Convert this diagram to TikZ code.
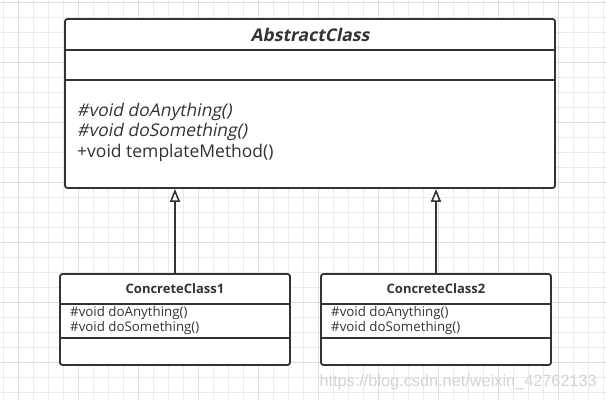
\documentclass[tikz,border=0pt]{standalone}
\usepackage{fontspec}
\setmainfont{Open Sans}
\newfontfamily\slantfont{Open Sans}[FakeSlant=0.2]
\newfontfamily\markfont{Liberation Sans}
\usetikzlibrary{arrows.meta}

\definecolor{linec}{HTML}{333333}
\definecolor{textc}{HTML}{333333}
\definecolor{gridminor}{HTML}{EBEBEB}
\definecolor{gridmajor}{HTML}{DEDEDE}
\definecolor{markc}{HTML}{D4D4D4}

\tikzset{
  umlbox/.style={draw=linec, line width=1.8pt, rounded corners=2.5pt, fill=white, inner sep=0pt},
  divline/.style={draw=linec, line width=1.8pt},
  member/.style={anchor=west, inner sep=0pt, text=textc},
  classname/.style={inner sep=0pt, text=textc, font=\bfseries},
  extends/.style={-{Triangle[open, length=13pt, width=10pt, line width=1.6pt]}, draw=linec, line width=1.8pt}
}

\begin{document}
\begin{tikzpicture}[x=1pt,y=-1pt]
    \useasboundingbox (0,0) rectangle (607,400);
    \fill[white] (0,0) rectangle (607,400);
    % grid
    \foreach \i in {0,...,40} \draw[gridminor, line width=0.9pt] ({3+15*\i},0) -- ({3+15*\i},400);
    \foreach \i in {0,...,26} \draw[gridminor, line width=0.9pt] (0,{2+15*\i}) -- (607,{2+15*\i});
    \foreach \i in {0,...,9} \draw[gridmajor, line width=0.9pt] ({18+60*\i},0) -- ({18+60*\i},400);
    \foreach \i in {0,...,6} \draw[gridmajor, line width=0.9pt] (0,{2+60*\i}) -- (607,{2+60*\i});

    % abstract class
    \node[umlbox, minimum width=490pt, minimum height=169pt] (abs) at (310,103.5) {};
    \draw[divline] (abs.west |- 0,50) -- (abs.east |- 0,50);
    \draw[divline] (abs.west |- 0,80) -- (abs.east |- 0,80);
    \node[classname, font=\slantfont\bfseries\fontsize{17.5}{20}\selectfont] (absname) at (310,35) {AbstractClass};
    \node[member, font=\slantfont\fontsize{17.5}{20}\selectfont] (absm1) at (77,112) {\#void doAnything()};
    \node[member, font=\slantfont\fontsize{17.5}{20}\selectfont] (absm2) at (77,132) {\#void doSomething()};
    \node[member, font=\fontsize{17.5}{20}\selectfont] (absm3) at (77,153) {+void templateMethod()};

    % concrete classes
    \node[umlbox, minimum width=230pt, minimum height=91pt] (con1) at (175,319.5) {};
    \draw[divline] (con1.west |- 0,304) -- (con1.east |- 0,304);
    \draw[divline] (con1.west |- 0,338) -- (con1.east |- 0,338);
    \node[classname, font=\bfseries\fontsize{13}{15}\selectfont] (con1name) at (175,289) {ConcreteClass1};
    \node[member, font=\fontsize{13.3}{15}\selectfont] (con1m1) at (70,313) {\#void doAnything()};
    \node[member, font=\fontsize{13.3}{15}\selectfont] (con1m2) at (70,328) {\#void doSomething()};

    \node[umlbox, minimum width=230pt, minimum height=91pt] (con2) at (436,319.5) {};
    \draw[divline] (con2.west |- 0,304) -- (con2.east |- 0,304);
    \draw[divline] (con2.west |- 0,338) -- (con2.east |- 0,338);
    \node[classname, font=\bfseries\fontsize{13}{15}\selectfont] (con2name) at (436,289) {ConcreteClass2};
    \node[member, font=\fontsize{13.3}{15}\selectfont] (con2m1) at (331,313) {\#void doAnything()};
    \node[member, font=\fontsize{13.3}{15}\selectfont] (con2m2) at (331,328) {\#void doSomething()};

    % generalisation
    \draw[extends] (con1.north) -- (abs.south -| con1.north);
    \draw[extends] (con2.north) -- (abs.south -| con2.north);

    % watermark
    \node[anchor=east, inner sep=0pt, text=markc, font=\markfont\fontsize{16.3}{19}\selectfont] (mark) at (597,382) {https://blog.csdn.net/weixin\_42762133};
\end{tikzpicture}
\end{document}
